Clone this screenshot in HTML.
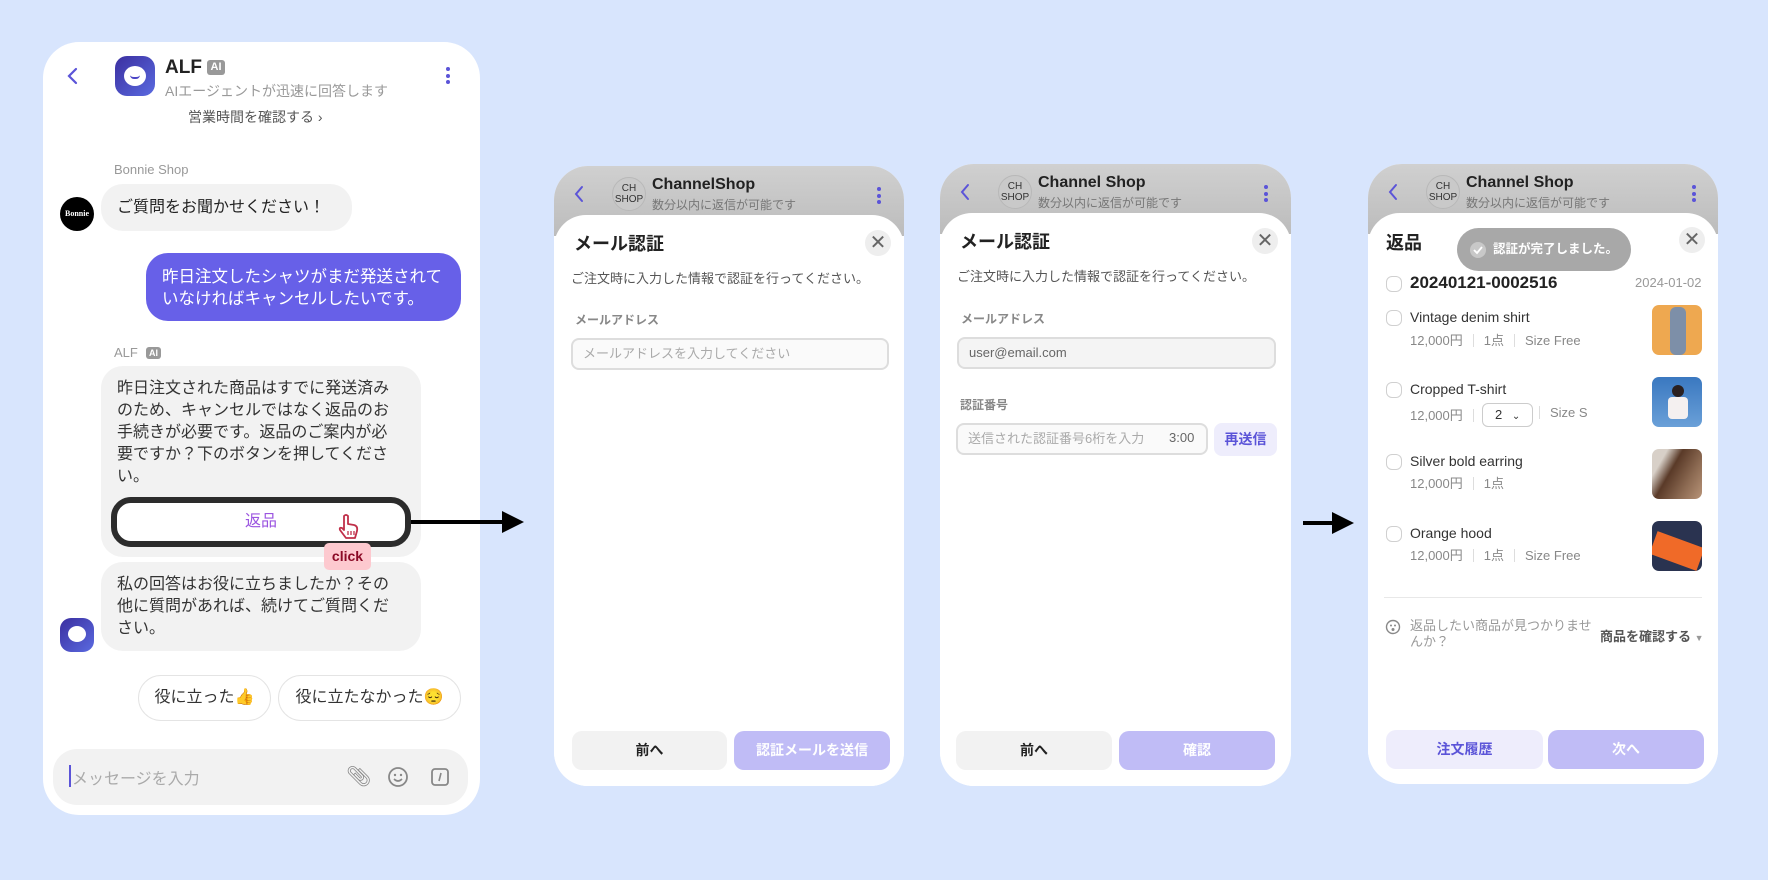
<!DOCTYPE html>
<html><head><meta charset="utf-8">
<style>
*{box-sizing:border-box;margin:0;padding:0}
body{width:1768px;height:880px;background:#d8e5fd;position:relative;overflow:hidden;font-family:"Liberation Sans","Noto Sans CJK JP",sans-serif;color:#222}
.a{position:absolute;white-space:nowrap}
.card{position:absolute;background:#fff;border-radius:34px;overflow:hidden}
.hdr{position:absolute;left:0;right:0;top:0;height:70px;background:linear-gradient(#d0d0d0,#bcbcbc)}
.sheet{position:absolute;left:0;right:0;bottom:0;background:#fff;border-radius:32px 32px 0 0}
.ch{position:absolute;width:34px;height:34px;border-radius:50%;border:1px solid #b8b8b8;background:#c9c9c9;font-size:10px;line-height:11px;text-align:center;padding-top:5px;color:#333}
.dots{position:absolute;width:4px}
.dots i{display:block;width:4px;height:4px;border-radius:50%;background:#5b54d8;margin-bottom:2.5px}
.close{position:absolute;width:26px;height:26px;border-radius:50%;background:#eee;color:#666;font-size:20px;line-height:26px;text-align:center}
.btn{position:absolute;height:39px;border-radius:10px;font-size:14px;font-weight:bold;text-align:center;line-height:39px}
.cb{position:absolute;width:16px;height:16px;border:1.5px solid #d0d0d0;border-radius:6px}
.th{position:absolute;width:50px;height:50px;border-radius:7px;overflow:hidden}
.meta{font-size:13px;color:#888}
.sep{display:inline-block;width:1px;height:13px;background:#ddd;margin:0 10px;vertical-align:-2px}
</style></head><body>

<!-- LEFT CHAT CARD -->
<div class="card" style="left:43px;top:42px;width:437px;height:773px;border-radius:36px">
</div>
<svg class="a" style="left:66px;top:66px" width="14" height="20"><path d="M10 3 L3 10 L10 17" stroke="#5b54d8" stroke-width="2.2" fill="none" stroke-linecap="round"/></svg>
<div class="a" style="left:115px;top:56px;width:40px;height:40px;border-radius:12px;background:linear-gradient(135deg,#3b2fa0,#5a6ae0)"></div>
<div class="a" style="left:124px;top:66px;width:22px;height:20px;border-radius:50%;background:#fff"></div>
<div class="a" style="left:130px;top:75px;width:10px;height:4px;border-bottom:2px solid #4c45c6;border-radius:0 0 6px 6px"></div>
<div class="a" style="left:165px;top:57px;font-size:19px;font-weight:bold;color:#222">ALF</div>
<div class="a" style="left:207px;top:60px;width:18px;height:15px;background:#999;border-radius:3px;color:#fff;font-size:11px;font-weight:bold;text-align:center;line-height:15px">AI</div>
<div class="a" style="left:165px;top:81px;font-size:14px;color:#999">AIエージェントが迅速に回答します</div>
<div class="dots" style="left:446px;top:67px"><i></i><i></i><i></i></div>
<div class="a" style="left:188px;top:107px;font-size:14px;color:#555">営業時間を確認する ›</div>

<div class="a" style="left:114px;top:162px;font-size:13px;color:#999">Bonnie Shop</div>
<div class="a" style="left:60px;top:197px;width:34px;height:34px;border-radius:50%;background:#000;color:#fff;font-size:8px;font-weight:bold;font-family:'Liberation Serif',serif;text-align:center;line-height:34px">Bonnie</div>
<div class="a" style="left:101px;top:184px;width:251px;height:47px;border-radius:22px;background:#f2f2f2;font-size:16px;line-height:47px;padding-left:16px">ご質問をお聞かせください！</div>

<div class="a" style="left:146px;top:253px;width:315px;height:68px;border-radius:22px;background:#6760e8;color:#fff;font-size:16.5px;line-height:22px;padding:13px 0 0 16px;white-space:normal">昨日注文したシャツがまだ発送されて<br>いなければキャンセルしたいです。</div>

<div class="a" style="left:114px;top:345px;font-size:13px;color:#999">ALF</div>
<div class="a" style="left:146px;top:347px;width:15px;height:12px;background:#999;border-radius:3px;color:#fff;font-size:9px;font-weight:bold;text-align:center;line-height:12px">AI</div>

<div class="a" style="left:101px;top:366px;width:320px;height:191px;border-radius:22px;background:#f2f2f2;font-size:16px;line-height:22px;padding:12px 0 0 16px;color:#333">昨日注文された商品はすでに発送済み<br>のため、キャンセルではなく返品のお<br>手続きが必要です。返品のご案内が必<br>要ですか？下のボタンを押してくださ<br>い。</div>
<div class="a" style="left:111px;top:497px;width:300px;height:50px;border:6px solid #2c2c2c;border-radius:20px;background:#fff;text-align:center;font-size:16px;line-height:38px;color:#9b55e0">返品</div>

<div class="a" style="left:101px;top:562px;width:320px;height:89px;border-radius:22px;background:#f2f2f2;font-size:16px;line-height:22px;padding:12px 0 0 16px;color:#333">私の回答はお役に立ちましたか？その<br>他に質問があれば、続けてご質問くだ<br>さい。</div>
<svg class="a" style="left:337px;top:514px;z-index:3" width="24" height="26" viewBox="0 0 24 26"><path d="M7 2 Q9 0 11 2 L11 10 L17 11 Q21 12 20 17 L18 24 L9 24 L3 16 Q2 13 5 14 L7 16 Z" fill="#fff" stroke="#c0304a" stroke-width="1.8" stroke-linejoin="round"/><path d="M11 17 V21 M14 17 V21 M17 17 V21" stroke="#c0304a" stroke-width="1.3"/></svg>
<div class="a" style="left:324px;top:543px;width:47px;height:27px;border-radius:5px;background:#fdc9cf;color:#8b0a26;font-size:14px;font-weight:bold;text-align:center;line-height:27px;z-index:3">click</div>
<div class="a" style="left:60px;top:618px;width:34px;height:34px;border-radius:11px;background:linear-gradient(135deg,#3b2fa0,#5a6ae0)"></div>
<div class="a" style="left:68px;top:626px;width:18px;height:16px;border-radius:50%;background:#fff"></div>

<div class="a" style="left:138px;top:675px;width:133px;height:46px;border:1px solid #e4e4e4;border-radius:23px;font-size:16px;line-height:44px;text-align:center;color:#333">役に立った👍</div>
<div class="a" style="left:278px;top:675px;width:183px;height:46px;border:1px solid #e4e4e4;border-radius:23px;font-size:16px;line-height:44px;text-align:center;color:#333">役に立たなかった😔</div>

<div class="a" style="left:53px;top:749px;width:415px;height:56px;border-radius:24px;background:#f2f2f2"></div>
<div class="a" style="left:69px;top:765px;width:2px;height:22px;background:#5b54d8"></div>
<div class="a" style="left:72px;top:765px;font-size:16px;color:#aaa">メッセージを入力</div>
<div class="a" style="left:346px;top:764px;font-size:20px;color:#888">📎︎</div>
<svg class="a" style="left:387px;top:766px" width="22" height="22"><circle cx="11" cy="11" r="9" stroke="#888" stroke-width="1.8" fill="none"/><circle cx="8" cy="9" r="1.2" fill="#888"/><circle cx="14" cy="9" r="1.2" fill="#888"/><path d="M7 13 Q11 17 15 13" stroke="#888" stroke-width="1.6" fill="none"/></svg>
<svg class="a" style="left:430px;top:767px" width="20" height="20"><rect x="2" y="2" width="16" height="16" rx="3" stroke="#888" stroke-width="1.8" fill="none"/><path d="M11 6 L9 14" stroke="#888" stroke-width="1.6"/></svg>

<!-- arrows -->
<div class="a" style="left:411px;top:520px;width:96px;height:4px;background:#000"></div>
<svg class="a" style="left:502px;top:511px" width="24" height="22"><path d="M0 0 L22 11 L0 22Z" fill="#000"/></svg>
<div class="a" style="left:1303px;top:521px;width:32px;height:4px;background:#000"></div>
<svg class="a" style="left:1332px;top:512px" width="24" height="22"><path d="M0 0 L22 11 L0 22Z" fill="#000"/></svg>

<!-- PANEL 2 -->
<div class="card" style="left:554px;top:166px;width:350px;height:620px">
 <div class="hdr"></div>
 <div class="sheet" style="top:49px"></div>
</div>
<svg class="a" style="left:574px;top:185px" width="10" height="18"><path d="M8 2 L2 9 L8 16" stroke="#5b54d8" stroke-width="2" fill="none" stroke-linecap="round"/></svg>
<div class="ch" style="left:612px;top:177px">CH<br>SHOP</div>
<div class="a" style="left:652px;top:176px;font-size:16px;font-weight:bold">ChannelShop</div>
<div class="a" style="left:652px;top:196px;font-size:12px;color:#777">数分以内に返信が可能です</div>
<div class="dots" style="left:877px;top:187px"><i></i><i></i><i></i></div>
<div class="a" style="left:574px;top:230px;font-size:18px;font-weight:bold">メール認証</div>
<div class="close" style="left:865px;top:230px">✕</div>
<div class="a" style="left:571px;top:268px;font-size:13px;color:#555">ご注文時に入力した情報で認証を行ってください。</div>
<div class="a" style="left:575px;top:311px;font-size:12px;color:#888;font-weight:bold">メールアドレス</div>
<div class="a" style="left:571px;top:338px;width:318px;height:32px;border:2px solid #ddd;border-radius:8px;background:#fafafa;font-size:13px;color:#aaa;line-height:28px;padding-left:10px">メールアドレスを入力してください</div>
<div class="btn" style="left:572px;top:731px;width:155px;background:#f2f2f2;color:#222">前へ</div>
<div class="btn" style="left:734px;top:731px;width:156px;background:#c0bcf6;color:#fff">認証メールを送信</div>

<!-- PANEL 3 -->
<div class="card" style="left:940px;top:164px;width:351px;height:622px">
 <div class="hdr"></div>
 <div class="sheet" style="top:49px"></div>
</div>
<svg class="a" style="left:960px;top:183px" width="10" height="18"><path d="M8 2 L2 9 L8 16" stroke="#5b54d8" stroke-width="2" fill="none" stroke-linecap="round"/></svg>
<div class="ch" style="left:998px;top:175px">CH<br>SHOP</div>
<div class="a" style="left:1038px;top:174px;font-size:16px;font-weight:bold">Channel Shop</div>
<div class="a" style="left:1038px;top:194px;font-size:12px;color:#777">数分以内に返信が可能です</div>
<div class="dots" style="left:1264px;top:185px"><i></i><i></i><i></i></div>
<div class="a" style="left:960px;top:228px;font-size:18px;font-weight:bold">メール認証</div>
<div class="close" style="left:1252px;top:228px">✕</div>
<div class="a" style="left:957px;top:266px;font-size:13px;color:#555">ご注文時に入力した情報で認証を行ってください。</div>
<div class="a" style="left:961px;top:310px;font-size:12px;color:#888;font-weight:bold">メールアドレス</div>
<div class="a" style="left:957px;top:337px;width:319px;height:32px;border:2px solid #ddd;border-radius:8px;background:#f4f4f4;font-size:13px;color:#666;line-height:28px;padding-left:10px">user@email.com</div>
<div class="a" style="left:960px;top:396px;font-size:12px;color:#888;font-weight:bold">認証番号</div>
<div class="a" style="left:956px;top:423px;width:252px;height:32px;border:2px solid #ddd;border-radius:8px;background:#fafafa;font-size:13px;color:#aaa;line-height:28px;padding-left:10px">送信された認証番号6桁を入力</div>
<div class="a" style="left:1169px;top:430px;font-size:13px;color:#666">3:00</div>
<div class="a" style="left:1214px;top:423px;width:63px;height:33px;border-radius:8px;background:#eeedfc;color:#5b54d8;font-size:14px;font-weight:bold;text-align:center;line-height:33px">再送信</div>
<div class="btn" style="left:956px;top:731px;width:156px;background:#f2f2f2;color:#222">前へ</div>
<div class="btn" style="left:1119px;top:731px;width:156px;background:#c0bcf6;color:#fff">確認</div>

<!-- PANEL 4 -->
<div class="card" style="left:1368px;top:164px;width:350px;height:620px">
 <div class="hdr"></div>
 <div class="sheet" style="top:49px"></div>
</div>
<svg class="a" style="left:1388px;top:183px" width="10" height="18"><path d="M8 2 L2 9 L8 16" stroke="#5b54d8" stroke-width="2" fill="none" stroke-linecap="round"/></svg>
<div class="ch" style="left:1426px;top:175px">CH<br>SHOP</div>
<div class="a" style="left:1466px;top:174px;font-size:16px;font-weight:bold">Channel Shop</div>
<div class="a" style="left:1466px;top:194px;font-size:12px;color:#777">数分以内に返信が可能です</div>
<div class="dots" style="left:1692px;top:185px"><i></i><i></i><i></i></div>
<div class="a" style="left:1386px;top:229px;font-size:18px;font-weight:bold">返品</div>
<div class="a" style="left:1457px;top:228px;width:174px;height:43px;border-radius:22px;background:#a8a8a8;color:#fff;font-size:12.5px;font-weight:bold;line-height:43px;padding-left:36px">認証が完了しました。</div>
<svg class="a" style="left:1469px;top:241px" width="18" height="18"><circle cx="9" cy="9" r="8" fill="#c8c8c8"/><path d="M5 9 L8 12 L13 6" stroke="#fff" stroke-width="1.8" fill="none"/></svg>
<div class="close" style="left:1679px;top:227px">✕</div>
<div class="cb" style="left:1386px;top:276px"></div>
<div class="a" style="left:1410px;top:273px;font-size:17px;font-weight:bold">20240121-0002516</div>
<div class="a" style="left:1635px;top:275px;font-size:13px;color:#999">2024-01-02</div>

<div class="cb" style="left:1386px;top:310px"></div>
<div class="a" style="left:1410px;top:309px;font-size:14px;color:#333">Vintage denim shirt</div>
<div class="a meta" style="left:1410px;top:330px">12,000円<span class="sep"></span>1点<span class="sep"></span>Size Free</div>
<div class="th" style="left:1652px;top:305px;background:#eea850"><div class="a" style="left:18px;top:2px;width:16px;height:48px;background:#7d8fa8;border-radius:6px"></div></div>

<div class="cb" style="left:1386px;top:382px"></div>
<div class="a" style="left:1410px;top:381px;font-size:14px;color:#333">Cropped T-shirt</div>
<div class="a meta" style="left:1410px;top:405px">12,000円<span class="sep"></span></div>
<div class="a" style="left:1482px;top:403px;width:51px;height:24px;border:1px solid #ccc;border-radius:6px;font-size:13px;line-height:22px;padding-left:12px;color:#333">2 <span style="font-size:10px;margin-left:6px">⌄</span></div>
<div class="a meta" style="left:1539px;top:405px"><span class="sep" style="margin-left:0"></span>Size S</div>
<div class="th" style="left:1652px;top:377px;background:linear-gradient(#3a78c0,#6aa0d8)"><div class="a" style="left:16px;top:20px;width:20px;height:22px;background:#f4f0f0;border-radius:4px"></div><div class="a" style="left:20px;top:8px;width:12px;height:12px;background:#2a2020;border-radius:50%"></div></div>

<div class="cb" style="left:1386px;top:454px"></div>
<div class="a" style="left:1410px;top:453px;font-size:14px;color:#333">Silver bold earring</div>
<div class="a meta" style="left:1410px;top:473px">12,000円<span class="sep"></span>1点</div>
<div class="th" style="left:1652px;top:449px;background:linear-gradient(120deg,#d8d0c8 20%,#5a3a28 40%,#8c6a52 70%,#b89478)"></div>

<div class="cb" style="left:1386px;top:526px"></div>
<div class="a" style="left:1410px;top:525px;font-size:14px;color:#333">Orange hood</div>
<div class="a meta" style="left:1410px;top:545px">12,000円<span class="sep"></span>1点<span class="sep"></span>Size Free</div>
<div class="th" style="left:1652px;top:521px;background:#2a3350"><div class="a" style="left:0;top:18px;width:50px;height:24px;background:#f06a28;transform:rotate(20deg)"></div></div>

<div class="a" style="left:1384px;top:597px;width:318px;height:1px;background:#e8e8e8"></div>
<svg class="a" style="left:1385px;top:619px" width="16" height="16"><circle cx="8" cy="8" r="6.5" stroke="#888" stroke-width="1.4" fill="none"/><circle cx="6" cy="6.5" r="1" fill="#888"/><circle cx="10" cy="6.5" r="1" fill="#888"/><circle cx="8" cy="10.5" r="1.5" fill="#888"/></svg>
<div class="a" style="left:1410px;top:618px;font-size:13px;line-height:16px;color:#999">返品したい商品が見つかりませ<br>んか？</div>
<div class="a" style="left:1600px;top:626px;font-size:13px;font-weight:bold;color:#555">商品を確認する <span style="font-size:9px;color:#999">▼</span></div>
<div class="btn" style="left:1386px;top:730px;width:157px;background:#eeedfc;color:#5b54d8">注文履歴</div>
<div class="btn" style="left:1548px;top:730px;width:156px;background:#c0bcf6;color:#fff">次へ</div>

</body></html>
